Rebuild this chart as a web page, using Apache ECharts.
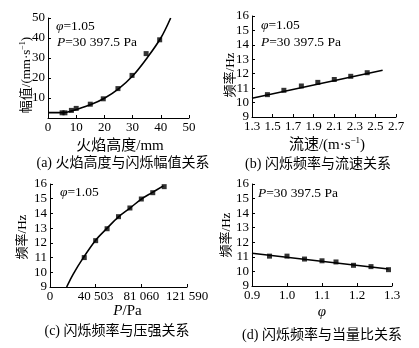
<!DOCTYPE html>
<html>
<head>
<meta charset="utf-8">
<script src="https://cdn.jsdelivr.net/npm/echarts@6/dist/echarts.min.js"></script>
<style>
html,body{margin:0;padding:0;background:#fff;}
#chart{width:419px;height:348px;}
</style>
</head>
<body>
<div id="chart"></div>
<script>
// (a) flame height vs flicker amplitude
const aHeight = [5, 6, 8.3, 10, 15, 19.6, 24.8, 29.8, 34.8, 39.6];
const aAmp = [2.6, 2.6, 3.8, 4.8, 6.9, 9.6, 14.7, 21.3, 32.2, 39.1];
const aFitHeight = [0, 5, 7, 10, 15, 20, 25, 30, 35, 40, 43.5];
const aFitAmp = [2.7, 2.7, 3.0, 4.2, 6.6, 9.9, 14.6, 21.0, 29.8, 40.0, 50.0];
const aXTicks = ['0', '10', '20', '30', '40', '50'];
const aYTicks = ['', '10', '20', '30', '40', '50'];
// (b) flow velocity vs flicker frequency
const bVel = [1.45, 1.61, 1.78, 1.94, 2.10, 2.26, 2.42];
const bFreq = [10.55, 10.85, 11.15, 11.4, 11.6, 11.82, 12.07];
const bFitVel = [1.3, 2.57];
const bFitFreq = [10.3, 12.24];
const bXTicks = ['1.3', '1.5', '1.7', '1.9', '2.1', '2.3', '2.5', '2.7'];
// (c) pressure vs flicker frequency
const cPress = [30397.5, 40530, 50662.5, 60795, 70927.5, 81060, 91192.5, 101325];
const cFreq = [11.0, 12.15, 12.96, 13.78, 14.37, 14.98, 15.41, 15.82];
const cFitPress = [14780, 20620, 29470, 40710, 50710, 61060, 70800, 80790, 90530, 100610];
const cFitFreq = [9.0, 9.88, 10.98, 12.2, 13.0, 13.78, 14.35, 14.96, 15.41, 15.87];
const cXTicks = ['0', '40 503', '81 060', '121 590'];
// (d) equivalence ratio vs flicker frequency
const dPhi = [0.95, 1.0, 1.05, 1.1, 1.14, 1.19, 1.24, 1.29];
const dFreq = [11.05, 11.05, 10.85, 10.73, 10.65, 10.42, 10.33, 10.12];
const dFitPhi = [0.9, 1.29];
const dFitFreq = [11.25, 10.17];
const dXTicks = ['0.9', '1.0', '1.1', '1.2', '1.3'];
const freqTicks = ['9', '10', '11', '12', '13', '14', '15', '16'];

const zip = (xs, ys) => xs.map((x, i) => [x, ys[i]]);
const FONT = "'Liberation Serif', 'Noto Sans CJK SC', serif";

function baseAxis(idx, min, max, interval, ticks) {
  return {
    type: 'value', gridIndex: idx, min: min, max: max, interval: interval,
    splitLine: {show: false},
    axisLine: {show: true, onZero: false, lineStyle: {color: '#000', width: 1}},
    axisTick: {show: true, inside: true, length: 3, lineStyle: {color: '#000'}},
    axisLabel: {color: '#000', fontSize: 13, fontFamily: FONT, margin: 3,
      formatter: function (v) { const k = Math.round((v - min) / interval); return ticks[k] !== undefined ? ticks[k] : ''; }}
  };
}
const nameRich = {
  n: {fontSize: 15, fontFamily: FONT, color: '#000', lineHeight: 18},
  i: {fontSize: 15, fontFamily: FONT, fontStyle: 'italic', color: '#000', lineHeight: 18},
  s: {fontSize: 9, fontFamily: FONT, color: '#000', lineHeight: 10, verticalAlign: 'top'}
};
function xAxisCfg(idx, min, max, interval, ticks, name, nameGap, padding) {
  return Object.assign(baseAxis(idx, min, max, interval, ticks), {
    name: name, nameLocation: 'middle', nameGap: nameGap,
    nameTextStyle: {color: '#000', fontSize: 15, fontFamily: FONT, rich: nameRich, padding: padding || 0}
  });
}
function yAxisCfg(idx, min, max, interval, ticks) {
  return baseAxis(idx, min, max, interval, ticks);
}

function scatter(xi, data) {
  return {type: 'scatter', xAxisIndex: xi, yAxisIndex: xi, data: data,
    symbol: 'rect', symbolSize: 5, itemStyle: {color: '#000'}, z: 3};
}
function fit(xi, data, smooth) {
  return {type: 'line', xAxisIndex: xi, yAxisIndex: xi, data: data, smooth: smooth,
    showSymbol: false, lineStyle: {color: '#000', width: 1.6}, z: 2};
}
const annRich = {
  i: {fontSize: 13.5, fontFamily: FONT, fontStyle: 'italic', fill: '#000'},
  n: {fontSize: 13.5, fontFamily: FONT, fill: '#000'}
};
function annot(x, y, text) {
  return {type: 'text', x: x, y: y, style: {text: text, rich: annRich, verticalAlign: 'middle', fill: '#000'}};
}
const yNameRich = {
  n: {fontSize: 13, fontFamily: FONT, fill: '#000', lineHeight: 16},
  s: {fontSize: 8, fontFamily: FONT, fill: '#000', lineHeight: 9, verticalAlign: 'top'}
};
function yName(x, y, text) {
  return {type: 'text', x: x, y: y, rotation: Math.PI / 2,
    style: {text: text, rich: yNameRich, align: 'center', verticalAlign: 'middle', fill: '#000'}};
}
function caption(x, y, text) {
  return {type: 'text', x: x, y: y, style: {
    text: text, fontSize: 14, fontFamily: FONT, align: 'center', verticalAlign: 'middle', fill: '#000'
  }};
}

const chart = echarts.init(document.getElementById('chart'), null, {renderer: 'canvas'});
chart.setOption({
  backgroundColor: '#fff',
  animation: false,
  grid: [
    {left: 48, top: 18, width: 141, height: 100},
    {left: 252, top: 16, width: 144, height: 101},
    {left: 50, top: 184, width: 137, height: 103},
    {left: 252, top: 184, width: 140, height: 102}
  ],
  xAxis: [
    xAxisCfg(0, 0, 50, 10, aXTicks, '{n|火焰高度/mm}', 19, [0, 0, 0, 3]),
    xAxisCfg(1, 1.3, 2.7, 0.2, bXTicks, '{n|流速/(m·s}{s|−1}{n|)}', 19, [0, 0, 0, 6]),
    xAxisCfg(2, 0, 121590, 40530, cXTicks, '{i|P}{n|/Pa}', 8, [0, 0, 0, 18]),
    xAxisCfg(3, 0.9, 1.3, 0.1, dXTicks, '{i|φ}', 17)
  ],
  yAxis: [
    yAxisCfg(0, 0, 50, 10, aYTicks),
    yAxisCfg(1, 9, 16, 1, freqTicks),
    yAxisCfg(2, 9, 16, 1, freqTicks),
    yAxisCfg(3, 9, 16, 1, freqTicks)
  ],
  series: [
    fit(0, zip(aFitHeight, aFitAmp), 0.35), scatter(0, zip(aHeight, aAmp)),
    fit(1, zip(bFitVel, bFitFreq), false), scatter(1, zip(bVel, bFreq)),
    fit(2, zip(cFitPress, cFitFreq), 0.35), scatter(2, zip(cPress, cFreq)),
    fit(3, zip(dFitPhi, dFitFreq), false), scatter(3, zip(dPhi, dFreq))
  ],
  graphic: [
    annot(56, 26, '{i|φ}{n|=1.05}'),
    annot(57, 42, '{i|P}{n|=30 397.5 Pa}'),
    annot(261, 25, '{i|φ}{n|=1.05}'),
    annot(261, 42, '{i|P}{n|=30 397.5 Pa}'),
    annot(60, 192, '{i|φ}{n|=1.05}'),
    annot(258, 193, '{i|P}{n|=30 397.5 Pa}'),
    yName(27, 75, '{n|幅值/(mm·s}{s|−1}{n|)}'),
    yName(231, 75, '{n|频率/Hz}'),
    yName(23, 237, '{n|频率/Hz}'),
    yName(227, 235, '{n|频率/Hz}'),
    caption(123, 163, '(a) 火焰高度与闪烁幅值关系'),
    caption(318, 164, '(b) 闪烁频率与流速关系'),
    caption(117, 331, '(c) 闪烁频率与压强关系'),
    caption(322, 335, '(d) 闪烁频率与当量比关系')
  ]
});
</script>
</body>
</html>
